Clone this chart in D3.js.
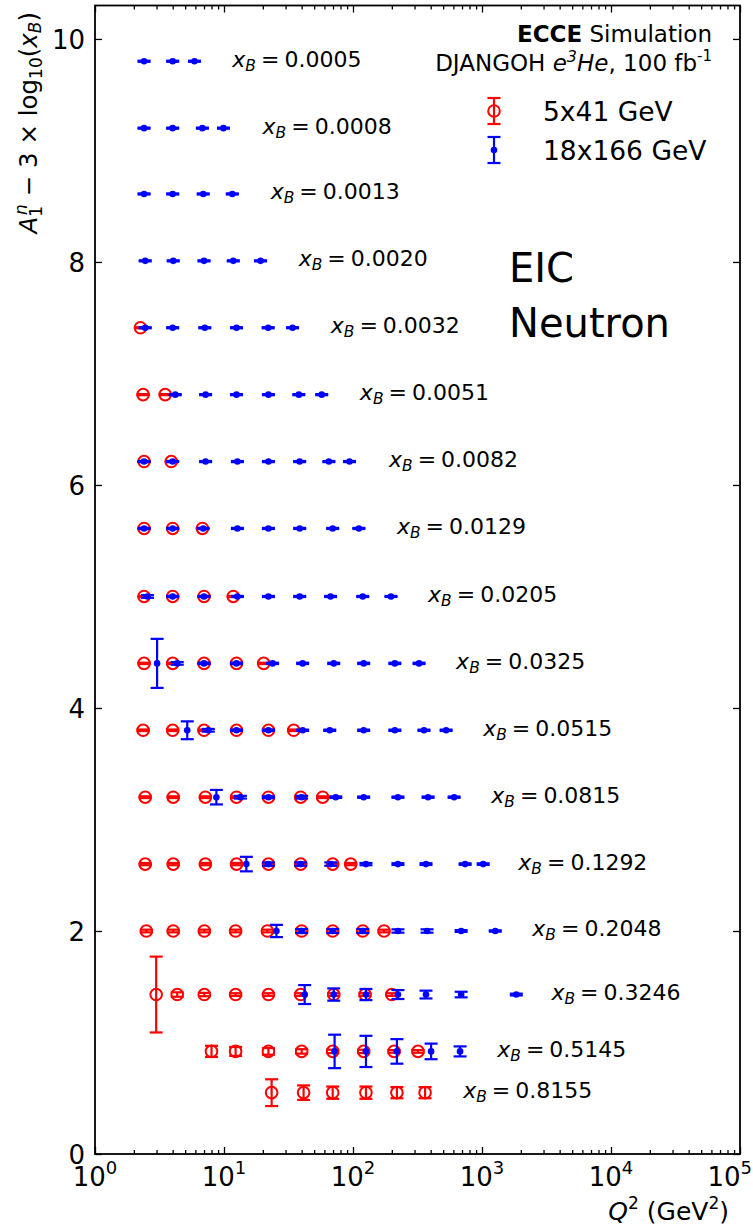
<!DOCTYPE html>
<html>
<head>
<meta charset="utf-8">
<script src="https://cdn.jsdelivr.net/npm/d3@7"></script>
<style>
  body { margin: 0; background: #fff; }
  svg { display: block; }
  text { font-family: "DejaVu Sans", sans-serif; fill: #000; }
</style>
</head>
<body>
<div id="chart"></div>
<script>
// x_B bins, one row each
const xbLabels = ["0.0005", "0.0008", "0.0013", "0.0020", "0.0032", "0.0051", "0.0082", "0.0129",
  "0.0205", "0.0325", "0.0515", "0.0815", "0.1292", "0.2048", "0.3246", "0.5145", "0.8155"];
// A1n - 3 log10(xB) per row
const rowY = [9.80, 9.20, 8.61, 8.01, 7.41, 6.81, 6.21, 5.61, 5.00, 4.40, 3.80, 3.20, 2.60, 2.00, 1.43, 0.92, 0.55];
// Q2 where each row label starts
const labelQ2 = [11.6, 19.9, 23.0, 37.9, 67.2, 113, 190, 219, 382, 630, 1021, 1180, 1911, 2455, 3450, 1313, 714];

// 5x41 GeV
const redQ2 = [
  [], [], [], [],
  [2.25],
  [2.36, 3.5],
  [2.4, 3.9],
  [2.4, 4.0, 6.8],
  [2.4, 4.0, 7.0, 11.8],
  [2.4, 4.0, 7.0, 12.5, 20.3],
  [2.36, 4.0, 7.0, 12.5, 22.1, 34.7],
  [2.45, 4.04, 7.17, 12.5, 22.1, 39.3, 58.2],
  [2.45, 4.04, 7.17, 12.5, 22.1, 39.3, 69.6, 96],
  [2.5, 4.04, 7.04, 12.3, 21.7, 40, 69.6, 119, 174],
  [2.98, 4.34, 7.04, 12.3, 22.1, 39.3, 70.9, 124, 200],
  [8.0, 12.3, 22.1, 40, 69.6, 121, 208, 319],
  [23.4, 41.4, 69.6, 126, 219, 362]
];
const redErr = [
  [], [], [], [],
  [0.005],
  [0.005, 0.005],
  [0.005, 0.005],
  [0.005, 0.005, 0.005],
  [0.005, 0.005, 0.005, 0.005],
  [0.006, 0.006, 0.006, 0.006, 0.006],
  [0.007, 0.007, 0.007, 0.007, 0.007, 0.007],
  [0.008, 0.008, 0.008, 0.008, 0.008, 0.008, 0.008],
  [0.01, 0.01, 0.01, 0.01, 0.01, 0.01, 0.01, 0.01],
  [0.012, 0.012, 0.012, 0.012, 0.012, 0.012, 0.012, 0.012, 0.012],
  [0.34, 0.02, 0.015, 0.012, 0.012, 0.012, 0.012, 0.012, 0.012],
  [0.05, 0.04, 0.03, 0.02, 0.015, 0.015, 0.012, 0.012],
  [0.12, 0.065, 0.055, 0.055, 0.05, 0.05]
];

// 18x166 GeV
const blueQ2 = [
  [2.40, 4.0, 5.9],
  [2.40, 4.0, 6.8, 9.9],
  [2.40, 4.0, 6.9, 11.6],
  [2.45, 4.04, 7.0, 11.8, 19.2],
  [2.45, 4.0, 7.1, 12.5, 22.0, 34.0],
  [4.19, 7.2, 12.5, 22.1, 38.0, 57.2],
  [2.4, 4.0, 7.2, 12.7, 22.1, 38.6, 65, 94],
  [2.4, 4.0, 6.9, 12.7, 22.1, 38.6, 69.6, 111],
  [2.55, 4.0, 7.0, 12.7, 22.1, 38.6, 67, 119, 197],
  [3.03, 4.34, 7.0, 12.5, 23.8, 40.7, 70.9, 121, 211, 325],
  [5.19, 7.56, 12.5, 22.1, 40.7, 66, 121, 211, 355, 527],
  [8.73, 13.4, 22.1, 40, 73.5, 121, 223, 382, 608],
  [14.9, 22.1, 39.3, 67.2, 126, 223, 368, 740, 1021],
  [25.5, 40, 69.6, 119, 223, 375, 689, 1267],
  [42.2, 70.9, 126, 223, 368, 689, 1845],
  [72, 126, 219, 403, 676],
  []
];
const blueErr = [
  [0.005, 0.005, 0.005],
  [0.005, 0.005, 0.005, 0.005],
  [0.005, 0.005, 0.005, 0.005],
  [0.005, 0.005, 0.005, 0.005, 0.005],
  [0.005, 0.005, 0.005, 0.005, 0.005, 0.005],
  [0.005, 0.005, 0.005, 0.005, 0.005, 0.005],
  [0.005, 0.005, 0.005, 0.005, 0.005, 0.005, 0.005, 0.005],
  [0.005, 0.005, 0.005, 0.005, 0.005, 0.005, 0.005, 0.005],
  [0.012, 0.005, 0.005, 0.005, 0.005, 0.005, 0.005, 0.005, 0.005],
  [0.22, 0.012, 0.006, 0.006, 0.006, 0.006, 0.006, 0.006, 0.006, 0.006],
  [0.08, 0.012, 0.006, 0.006, 0.006, 0.006, 0.006, 0.006, 0.006, 0.006],
  [0.065, 0.012, 0.008, 0.012, 0.007, 0.006, 0.006, 0.006, 0.006],
  [0.065, 0.015, 0.015, 0.015, 0.01, 0.008, 0.008, 0.007, 0.007],
  [0.055, 0.018, 0.018, 0.018, 0.015, 0.015, 0.008, 0.006],
  [0.085, 0.055, 0.05, 0.04, 0.035, 0.025, 0.008],
  [0.15, 0.14, 0.11, 0.07, 0.045],
  []
];

const legendNames = ["5x41 GeV", "18x166 GeV"];
const xTickExp = [0, 1, 2, 3, 4, 5];
const yTicks = [0, 2, 4, 6, 8, 10];

const W = 753, H = 1228;
const box = { l: 95, r: 740, t: 5.5, b: 1154 };
const RED = "#ff0000", BLUE = "#0000ff";

const svg = d3.select("#chart").append("svg")
  .attr("width", W).attr("height", H)
  .attr("viewBox", `0 0 ${W} ${H}`);

const x = d3.scaleLog().domain([1, 1e5]).range([box.l, box.r]);
const y = d3.scaleLinear().domain([0, 10.3]).range([box.b, box.t]);

// axes: ticks inward on all four sides
const minor = [];
for (let k = 0; k < 5; k++) for (let m = 2; m <= 9; m++) minor.push(m * Math.pow(10, k));
const major = xTickExp.map(e => Math.pow(10, e));

const axisGroup = (gen, tx, ty) => {
  const g = svg.append("g").attr("transform", `translate(${tx},${ty})`).call(gen);
  g.select(".domain").remove();
  g.selectAll(".tick line").attr("stroke", "#000").attr("stroke-width", 1.3);
  return g;
};
axisGroup(d3.axisBottom(x).tickValues(major).tickSize(-7).tickFormat(""), 0, box.b);
axisGroup(d3.axisBottom(x).tickValues(minor).tickSize(-4).tickFormat(""), 0, box.b);
axisGroup(d3.axisTop(x).tickValues(major).tickSize(-7).tickFormat(""), 0, box.t);
axisGroup(d3.axisTop(x).tickValues(minor).tickSize(-4).tickFormat(""), 0, box.t);
axisGroup(d3.axisRight(y).tickValues(yTicks).tickSize(-7).tickFormat(""), box.r, 0);
const yAx = axisGroup(d3.axisLeft(y).tickValues(yTicks).tickSize(-7).tickPadding(10).tickFormat(d3.format("d")), box.l, 0);
yAx.selectAll(".tick text")
  .attr("font-size", 26).attr("font-family", "DejaVu Sans").attr("fill", "#000")
  .attr("dy", "0.36em");

// x tick labels 10^n (the last one is kept inside the page)
const last = xTickExp[xTickExp.length - 1];
const xl = svg.append("g").selectAll("text").data(xTickExp).join("text")
  .attr("x", d => d === last ? W - 1 : x(Math.pow(10, d)))
  .attr("y", box.b + 32)
  .attr("text-anchor", d => d === last ? "end" : "middle")
  .attr("font-size", 26);
xl.append("tspan").text("10");
xl.append("tspan").attr("font-size", 18).attr("dy", -12).text(d => d);

svg.append("rect")
  .attr("x", box.l).attr("y", box.t)
  .attr("width", box.r - box.l).attr("height", box.b - box.t)
  .attr("fill", "none").attr("stroke", "#000").attr("stroke-width", 1.8);

// flatten the rows into points
const pts = [];
rowY.forEach((v, i) => {
  redQ2[i].forEach((q, j) => pts.push({ q, v, e: redErr[i][j], c: RED, open: true }));
  blueQ2[i].forEach((q, j) => pts.push({ q, v, e: blueErr[i][j], c: BLUE, open: false }));
});

const drawBar = (g, cx, ylo, yhi, color, open) => {
  g.append("line").attr("x1", cx).attr("x2", cx).attr("y1", ylo).attr("y2", yhi)
    .attr("stroke", color).attr("stroke-width", 2.2);
  [ylo, yhi].forEach(v => g.append("line")
    .attr("x1", cx - 6.5).attr("x2", cx + 6.5).attr("y1", v).attr("y2", v)
    .attr("stroke", color).attr("stroke-width", 2.2));
  if (open) {
    g.append("circle").attr("cx", cx).attr("cy", (ylo + yhi) / 2).attr("r", 5.8)
      .attr("fill", "none").attr("stroke", color).attr("stroke-width", 2);
  } else {
    g.append("circle").attr("cx", cx).attr("cy", (ylo + yhi) / 2).attr("r", 3.3)
      .attr("fill", color);
  }
};

const marks = svg.append("g");
pts.forEach(p => drawBar(marks, x(p.q), y(p.v - p.e), y(p.v + p.e), p.c, p.open));

// row labels  x_B = ...
const lab = svg.append("g").selectAll("text").data(xbLabels).join("text")
  .attr("x", (d, i) => x(labelQ2[i]))
  .attr("y", (d, i) => y(rowY[i]) + 5.5)
  .attr("font-size", 22);
lab.append("tspan").attr("font-style", "italic").text("x");
lab.append("tspan").attr("font-style", "italic").attr("font-size", 15.5).attr("dy", 4).text("B");
lab.append("tspan").attr("dy", -4).attr("dx", 5).text("=");
lab.append("tspan").attr("dx", 5).text(d => d);

// header text
const h1 = svg.append("text").attr("x", 712).attr("y", 42).attr("text-anchor", "end").attr("font-size", 23);
h1.append("tspan").attr("font-weight", "bold").text("ECCE");
h1.append("tspan").text(" Simulation");
const h2 = svg.append("text").attr("x", 712).attr("y", 71).attr("text-anchor", "end").attr("font-size", 23);
h2.append("tspan").text("DJANGOH ");
h2.append("tspan").attr("font-style", "italic").text("e");
h2.append("tspan").attr("font-style", "italic").attr("font-size", 16).attr("dy", -9).text("3");
h2.append("tspan").attr("font-style", "italic").attr("dy", 9).text("He");
h2.append("tspan").text(", 100 fb");
h2.append("tspan").attr("font-size", 15).attr("dy", -10).text("-1");

// legend
const leg = svg.append("g");
[RED, BLUE].forEach((c, i) => {
  const cy = 111 + i * 39;
  drawBar(leg, 494, cy + 13, cy - 13, c, i === 0);
  leg.append("text").attr("x", 543).attr("y", cy + 9.5).attr("font-size", 26.5).text(legendNames[i]);
});

svg.append("text").attr("x", 509).attr("y", 282).attr("font-size", 40).text("EIC");
svg.append("text").attr("x", 509).attr("y", 337).attr("font-size", 40).text("Neutron");

// axis titles
const xt = svg.append("text").attr("x", 729).attr("y", 1220).attr("text-anchor", "end").attr("font-size", 25);
xt.append("tspan").attr("font-style", "italic").text("Q");
xt.append("tspan").attr("font-size", 17).attr("dy", -11).text("2");
xt.append("tspan").attr("dy", 11).text(" (GeV");
xt.append("tspan").attr("font-size", 17).attr("dy", -11).text("2");
xt.append("tspan").attr("dy", 11).text(")");

const yt = svg.append("text").attr("transform", "translate(37,12) rotate(-90)")
  .attr("text-anchor", "end").attr("font-size", 24.5);
yt.append("tspan").attr("font-style", "italic").text("A");
yt.append("tspan").attr("font-size", 17).attr("dy", 5).text("1");
yt.append("tspan").attr("font-size", 17).attr("font-style", "italic").attr("dx", -9).attr("dy", -15).text("n");
yt.append("tspan").attr("dy", 10).text(" \u2212 3 \u00d7 log");
yt.append("tspan").attr("font-size", 17).attr("dy", 5).text("10");
yt.append("tspan").attr("dy", -5).text("(");
yt.append("tspan").attr("font-style", "italic").text("x");
yt.append("tspan").attr("font-style", "italic").attr("font-size", 17).attr("dy", 4).text("B");
yt.append("tspan").attr("dy", -4).text(")");
</script>
</body>
</html>
